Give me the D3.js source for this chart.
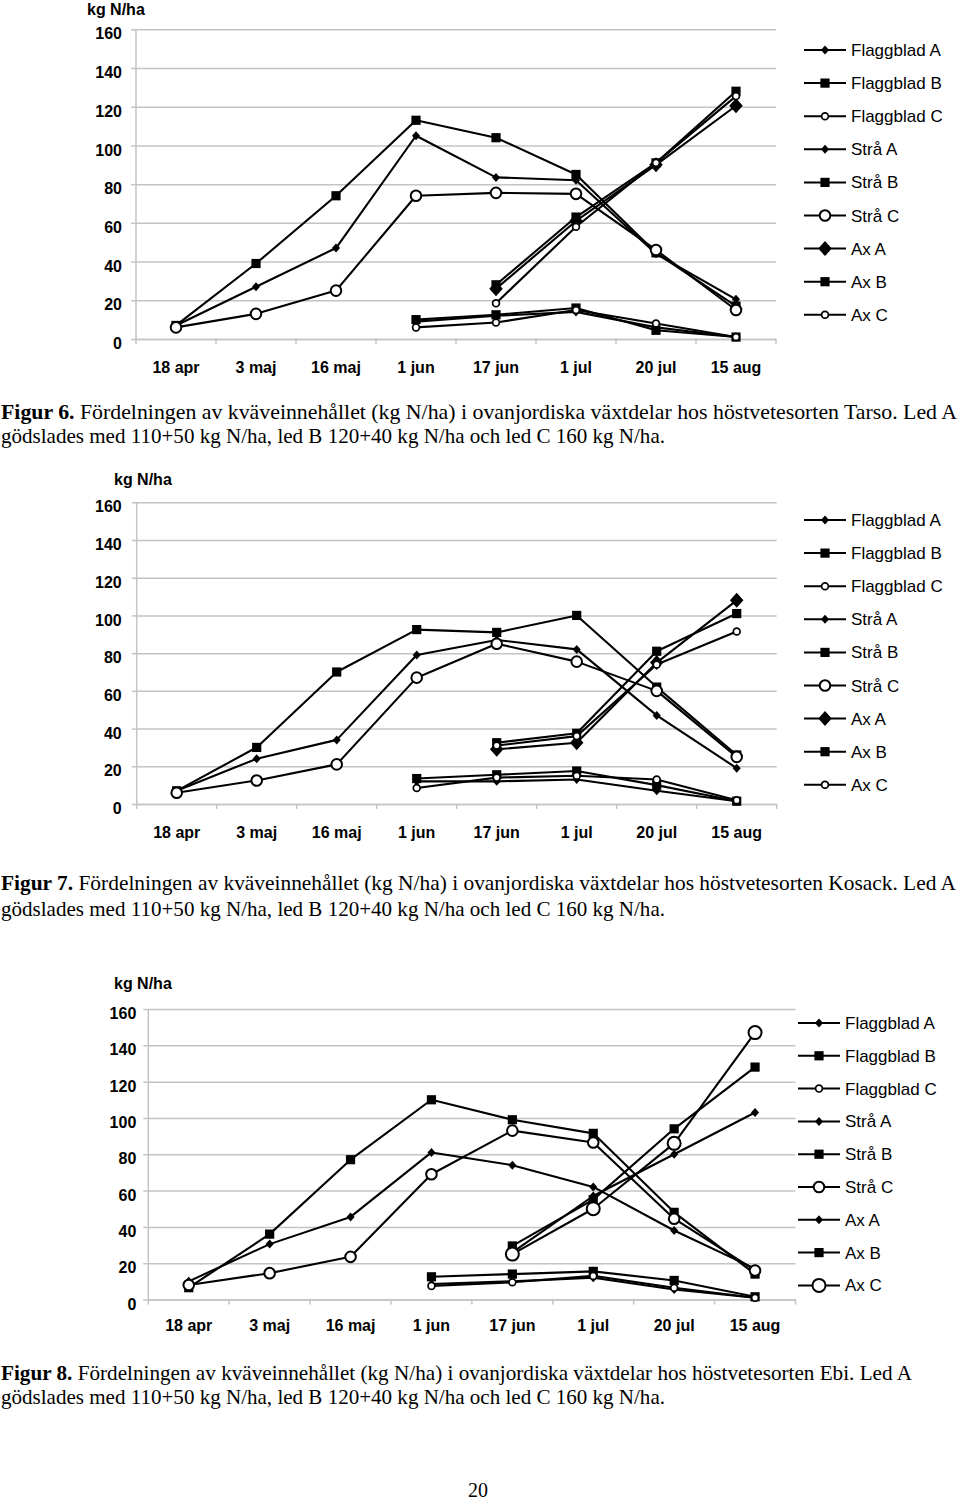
<!DOCTYPE html>
<html><head><meta charset="utf-8">
<script src="https://cdn.jsdelivr.net/npm/d3@7"></script>
<style>
html,body{margin:0;padding:0;background:#fff;}
svg{display:block;}
</style></head>
<body>
<svg id="page" width="960" height="1511"></svg>
<script>
// ---------- data ----------
const categories = ["18 apr","3 maj","16 maj","1 jun","17 jun","1 jul","20 jul","15 aug"];
const yTicks = [0,20,40,60,80,100,120,140,160];
const seriesNames = ["Flaggblad A","Flaggblad B","Flaggblad C","Strå A","Strå B","Strå C","Ax A","Ax B","Ax C"];

// Figur 6 - Tarso
const tarsoFlaggbladA = [null,null,null,9,12,14,6,1];
const tarsoFlaggbladB = [null,null,null,10,12.5,16,4.5,1];
const tarsoFlaggbladC = [null,null,null,6,8.5,15,8,1];
const tarsoStraA = [7,27,47,105,83.5,82,44,20.5];
const tarsoStraB = [7,39,74,113,104,85,44.5,17];
const tarsoStraC = [6,13,25,74,75.5,75,46,15];
const tarsoAxA = [null,null,null,null,26,61,90,120.5];
const tarsoAxB = [null,null,null,null,28,63,91,128];
const tarsoAxC = [null,null,null,null,18.5,58,91,125.5];

// Figur 7 - Kosack
const kosackFlaggbladA = [null,null,null,12,12,13,7,1.5];
const kosackFlaggbladB = [null,null,null,13.5,15.5,17.5,10,1.5];
const kosackFlaggbladC = [null,null,null,8.5,14,15,13,2];
const kosackStraA = [7,24,34,79,87,82,47,19];
const kosackStraB = [7,30,70,92.5,91,100,62,26];
const kosackStraC = [6,12.5,21,67,85,75.5,60,25];
const kosackAxA = [null,null,null,null,29,32.5,75,108];
const kosackAxB = [null,null,null,null,32.5,37.5,81,101];
const kosackAxC = [null,null,null,null,31,36,74,91.5];

// Figur 8 - Ebi
const ebiFlaggbladA = [null,null,null,8.5,10,12,5.5,1];
const ebiFlaggbladB = [null,null,null,12.5,14,15.5,10.5,1.5];
const ebiFlaggbladC = [null,null,null,7.5,9.5,13,6.5,1];
const ebiStraA = [10,30.5,45.5,81,74,62,38,17];
const ebiStraB = [6.5,36,77,110,99,91.5,48,14];
const ebiStraC = [8,14.5,23.5,69,93,86.5,44.5,16];
const ebiAxA = [null,null,null,null,26,57,80,103];
const ebiAxB = [null,null,null,null,29.5,55,94,128];
const ebiAxC = [null,null,null,null,25,50,86,147];

const captionStart = "Figur ";
const caption6 = ["6.", " Fördelningen av kväveinnehållet (kg N/ha) i ovanjordiska växtdelar hos höstvetesorten Tarso. Led A"];
const caption7 = ["7.", " Fördelningen av kväveinnehållet (kg N/ha) i ovanjordiska växtdelar hos höstvetesorten Kosack. Led A"];
const caption8 = ["8.", " Fördelningen av kväveinnehållet (kg N/ha) i ovanjordiska växtdelar hos höstvetesorten Ebi. Led A"];
const captionLine2 = "gödslades med 110+50 kg N/ha, led B 120+40 kg N/ha och led C 160 kg N/ha.";
const pageNumber = "20";

// ---------- drawing ----------
const svg = d3.select("#page");

function drawMarker(g, type, cx, cy) {
  const s = {
    dS: 4.5, dL: 7.5, sq: 4.6, cS: 3.4, cM: 5.3, cL: 6.5
  }[type];
  if (type === "dS" || type === "dL") {
    g.append("path")
      .attr("d", `M${cx},${cy - s}L${cx + s * 0.9},${cy}L${cx},${cy + s}L${cx - s * 0.9},${cy}Z`)
      .attr("fill", "#000");
  } else if (type === "sq") {
    g.append("rect").attr("x", cx - s).attr("y", cy - s)
      .attr("width", 2 * s).attr("height", 2 * s).attr("fill", "#000");
  } else {
    g.append("circle").attr("cx", cx).attr("cy", cy).attr("r", s)
      .attr("fill", "#fff").attr("stroke", "#000")
      .attr("stroke-width", type === "cS" ? 1.7 : 2);
  }
}

function drawChart(cfg) {
  const g = svg.append("g");
  const x = d3.scaleBand().domain(categories).range([cfg.x0, cfg.x1]);
  const y = d3.scaleLinear().domain([0, 160]).range([cfg.y0, cfg.yTop]);

  // gridlines
  const grid = g.append("g").attr("transform", `translate(${cfg.x0},0)`)
    .call(d3.axisLeft(y).tickValues(yTicks).tickSize(-(cfg.x1 - cfg.x0)).tickFormat(""));
  grid.select(".domain").remove();
  grid.selectAll(".tick line").attr("stroke", "#c4c4c4").attr("stroke-width", 1.5);

  // y axis
  const ya = g.append("g").attr("transform", `translate(${cfg.x0},0)`)
    .call(d3.axisLeft(y).tickValues(yTicks).tickSize(5).tickPadding(cfg.tickPad));
  ya.select(".domain").attr("stroke", "#c4c4c4").attr("stroke-width", 1.5).attr("d", `M0,${cfg.y0}V${cfg.yTop}`);
  ya.selectAll(".tick line").attr("stroke", "#c4c4c4").attr("stroke-width", 1.5);
  ya.selectAll(".tick text").attr("font-family", "Liberation Sans, Arial, sans-serif")
    .attr("font-size", 16).attr("font-weight", "bold").attr("fill", "#000").attr("dy", "0.6em");

  // x axis
  const xa = g.append("g").attr("transform", `translate(0,${cfg.y0})`)
    .call(d3.axisBottom(x).tickSize(0).tickPadding(cfg.xPad));
  xa.select(".domain").attr("stroke", "#c4c4c4").attr("stroke-width", 1.5);
  xa.selectAll(".tick text").attr("font-family", "Liberation Sans, Arial, sans-serif")
    .attr("font-size", 16).attr("font-weight", "bold").attr("fill", "#000");
  const bounds = categories.map(c => x(c)).concat([cfg.x1]);
  g.append("g").selectAll("line").data(bounds).join("line")
    .attr("x1", d => d).attr("x2", d => d)
    .attr("y1", cfg.y0).attr("y2", cfg.y0 + 5)
    .attr("stroke", "#c4c4c4").attr("stroke-width", 1.5);

  // unit label
  g.append("text").attr("x", cfg.unitX).attr("y", cfg.unitY)
    .attr("font-family", "Liberation Sans, Arial, sans-serif").attr("font-size", 16)
    .attr("font-weight", "bold").text("kg N/ha");

  // series
  const line = d3.line()
    .defined(d => d.v != null)
    .x(d => x(d.c) + x.bandwidth() / 2)
    .y(d => y(d.v));
  cfg.series.forEach(s => {
    const pts = categories.map((c, i) => ({ c, v: s.values[i] }));
    g.append("path").datum(pts).attr("d", line)
      .attr("fill", "none").attr("stroke", "#000").attr("stroke-width", 2.1)
      .attr("stroke-linejoin", "round");
    const mg = g.append("g");
    pts.filter(p => p.v != null).forEach(p => drawMarker(mg, s.marker, x(p.c) + x.bandwidth() / 2, y(p.v)));
  });

  // legend
  const lg = g.append("g");
  cfg.series.forEach((s, i) => {
    const ry = cfg.legY + i * cfg.legStep;
    lg.append("line").attr("x1", cfg.legX).attr("x2", cfg.legX + 42)
      .attr("y1", ry).attr("y2", ry).attr("stroke", "#000").attr("stroke-width", 2);
    drawMarker(lg, s.marker, cfg.legX + 21, ry);
    lg.append("text").attr("x", cfg.legX + 47).attr("y", ry + 6)
      .attr("font-family", "Liberation Sans, Arial, sans-serif").attr("font-size", 17)
      .text(s.name);
  });
}

function drawCaption(parts, y1, w1, y2, w2) {
  const t = svg.append("text").attr("x", 1).attr("y", y1)
    .attr("font-family", "Liberation Serif, Times New Roman, serif").attr("font-size", 21)
    .attr("textLength", w1).attr("lengthAdjust", "spacingAndGlyphs");
  t.append("tspan").attr("font-weight", "bold").text(captionStart + parts[0]);
  t.append("tspan").text(parts[1]);
  svg.append("text").attr("x", 1).attr("y", y2)
    .attr("font-family", "Liberation Serif, Times New Roman, serif").attr("font-size", 21)
    .attr("textLength", w2).attr("lengthAdjust", "spacingAndGlyphs")
    .text(captionLine2);
}

const mk = (vals, markers) => seriesNames.map((n, i) => ({ name: n, values: vals[i], marker: markers[i] }));
const markers12 = ["dS","sq","cS","dS","sq","cM","dL","sq","cS"];
const markers3 = ["dS","sq","cS","dS","sq","cM","dS","sq","cL"];

drawChart({
  x0: 136, x1: 776, yTop: 29.3, y0: 339, tickPad: 9, xPad: 23,
  unitX: 87, unitY: 15, legX: 804, legY: 50, legStep: 33.1,
  series: mk([tarsoFlaggbladA, tarsoFlaggbladB, tarsoFlaggbladC, tarsoStraA, tarsoStraB, tarsoStraC, tarsoAxA, tarsoAxB, tarsoAxC], markers12)
});
drawChart({
  x0: 136.7, x1: 776.7, yTop: 502.3, y0: 804, tickPad: 10, xPad: 23,
  unitX: 114, unitY: 485, legX: 804, legY: 520, legStep: 33.1,
  series: mk([kosackFlaggbladA, kosackFlaggbladB, kosackFlaggbladC, kosackStraA, kosackStraB, kosackStraC, kosackAxA, kosackAxB, kosackAxC], markers12)
});
drawChart({
  x0: 148.3, x1: 795.5, yTop: 1009, y0: 1299.5, tickPad: 7, xPad: 20,
  unitX: 114, unitY: 989, legX: 798, legY: 1023, legStep: 32.8,
  series: mk([ebiFlaggbladA, ebiFlaggbladB, ebiFlaggbladC, ebiStraA, ebiStraB, ebiStraC, ebiAxA, ebiAxB, ebiAxC], markers3)
});

drawCaption(caption6, 419, 956, 443, 664);
drawCaption(caption7, 890, 955, 916, 664);
drawCaption(caption8, 1380, 911, 1404, 664);

svg.append("text").attr("x", 478).attr("y", 1497).attr("text-anchor", "middle")
  .attr("font-family", "Liberation Serif, Times New Roman, serif").attr("font-size", 20)
  .text(pageNumber);
</script>
</body></html>
